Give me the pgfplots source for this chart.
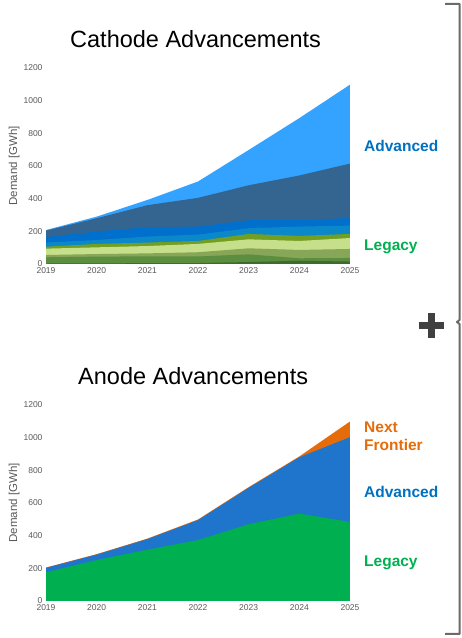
\documentclass[border=0pt]{standalone}
\usepackage{fontspec}
\setmainfont{Liberation Sans}
\usepackage{pgfplots}
\usepackage{pgfplotstable}
\pgfplotsset{compat=1.18}

\definecolor{lb}{HTML}{33A3FF}
\definecolor{sl}{HTML}{346591}
\definecolor{bl}{HTML}{0070CC}
\definecolor{te}{HTML}{0B88CA}
\definecolor{ol}{HTML}{729E22}
\definecolor{ly}{HTML}{C6DF8A}
\definecolor{om}{HTML}{88A657}
\definecolor{gr}{HTML}{5B8E3F}
\definecolor{dk}{HTML}{3E6B2C}
\definecolor{legacy}{HTML}{00B050}
\definecolor{adv}{HTML}{1F74CC}
\definecolor{advtxt}{HTML}{0070C0}
\definecolor{nxt}{HTML}{E46C0A}
\definecolor{tickgray}{HTML}{595959}
\definecolor{bracegray}{HTML}{6A6A6A}
\definecolor{plusgray}{HTML}{404040}

% cumulative tops
\pgfplotstableread{
year dk gr om ly ol te bl sl lb
2019 3  41 55 94  106 131 165 204 208
2020 4  45 61 102 123 147 200 280 290
2021 5  47 65 110 131 168 225 360 392
2022 6  46 72 123 141 180 229 405 505
2023 12 59 96 151 184 219 268 482 698
2024 20 35 86 141 172 229 268 542 893
2025 15 37 92 159 184 235 282 615 1098
}\cathode

\pgfplotstableread{
year leg adv nxt
2019 176 203 205
2020 251 284 287
2021 314 379 382
2022 373 495 499
2023 470 693 697
2024 535 880 885
2025 484 1003 1099
}\anode

\pgfplotsset{
  demand/.style={
    scale only axis, width=304pt, height=196pt,
    xmin=2019, xmax=2025, ymin=0, ymax=1200,
    xtick={2019,2020,...,2025}, ytick={0,200,...,1200},
    axis line style={draw=none}, major tick length=0pt,
    /pgf/number format/assume math mode=true,
    /pgf/number format/1000 sep={},
    ticklabel style={font=\fontsize{8.5}{10}\selectfont, text=tickgray},
    xticklabel style={yshift=-0.5pt},
    ylabel={Demand [GWh]},
    ylabel style={at={(axis description cs:-0.105,0.5)}, anchor=center,
      font=\fontsize{11.5}{13}\selectfont, text=tickgray},
  },
  lay/.style={fill=#1, draw=none},
}

\begin{document}
\begin{tikzpicture}
\useasboundingbox (0,0) rectangle (462pt,638pt);

\node[anchor=base west, inner sep=0, font=\fontsize{23.5}{28}\selectfont] at (70pt,590pt) {Cathode Advancements};
\node[anchor=base west, inner sep=0, font=\fontsize{23.5}{28}\selectfont] at (78pt,253pt) {Anode Advancements};

\begin{axis}[demand, at={(46pt,374pt)}, anchor=south west]
\addplot[lay=lb] table[x=year,y=lb] {\cathode} \closedcycle;
\addplot[lay=sl] table[x=year,y=sl] {\cathode} \closedcycle;
\addplot[lay=bl] table[x=year,y=bl] {\cathode} \closedcycle;
\addplot[lay=te] table[x=year,y=te] {\cathode} \closedcycle;
\addplot[lay=ol] table[x=year,y=ol] {\cathode} \closedcycle;
\addplot[lay=ly] table[x=year,y=ly] {\cathode} \closedcycle;
\addplot[lay=om] table[x=year,y=om] {\cathode} \closedcycle;
\addplot[lay=gr] table[x=year,y=gr] {\cathode} \closedcycle;
\addplot[lay=dk] table[x=year,y=dk] {\cathode} \closedcycle;
\end{axis}

\begin{axis}[demand, at={(46pt,37pt)}, anchor=south west]
\addplot[lay=nxt] table[x=year,y=nxt] {\anode} \closedcycle;
\addplot[lay=adv] table[x=year,y=adv] {\anode} \closedcycle;
\addplot[lay=legacy] table[x=year,y=leg] {\anode} \closedcycle;
\end{axis}

\begin{scope}[font=\fontsize{15.5}{18}\selectfont\bfseries, inner sep=0]
\node[anchor=west, text=advtxt] at (364pt,492pt) {Advanced};
\node[anchor=west, text=legacy] at (364pt,391pt) {Legacy};
\node[anchor=west, text=nxt, align=left] at (364pt,202pt) {Next\\Frontier};
\node[anchor=west, text=advtxt] at (364pt,146pt) {Advanced};
\node[anchor=west, text=legacy] at (364pt,75pt) {Legacy};
\end{scope}

\draw[bracegray, line width=2pt, line join=round]
  (445pt,634pt) -- (459.5pt,634pt) -- (459.5pt,318pt) -- (457pt,316pt)
  -- (459.5pt,314pt) -- (459.5pt,4pt) -- (445pt,4pt);

\fill[plusgray] (418.5pt,308.5pt) rectangle (443.5pt,315.5pt);
\fill[plusgray] (427.5pt,299.5pt) rectangle (434.5pt,324.5pt);
\end{tikzpicture}
\end{document}
